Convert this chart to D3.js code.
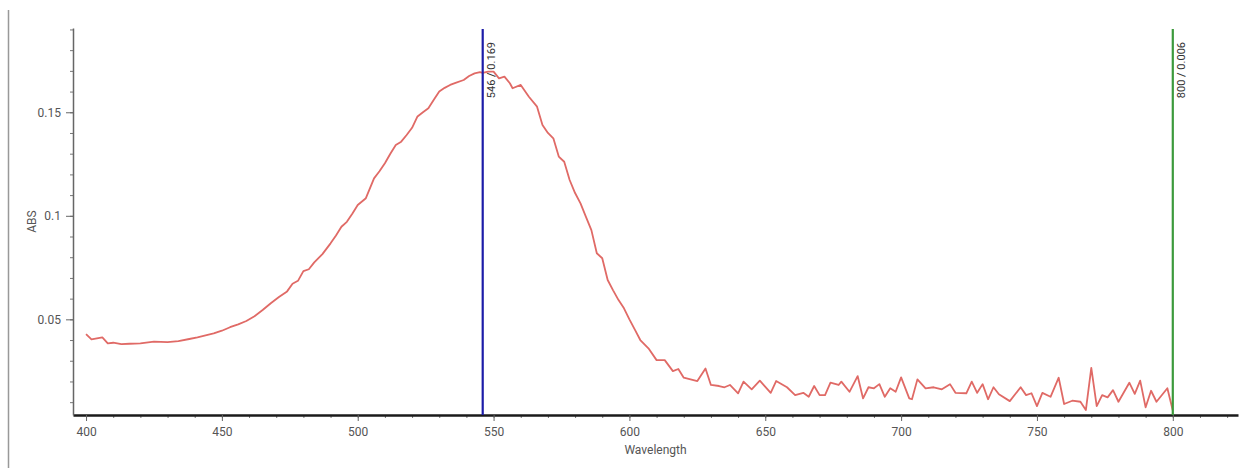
<!DOCTYPE html>
<html>
<head>
<meta charset="utf-8">
<script src="https://cdn.jsdelivr.net/npm/d3@7"></script>
<style>
  body { margin: 0; background: #fff; }
  text { font-family: Roboto, "Open Sans", sans-serif; }
</style>
</head>
<body>
<div class="canvas"></div>
<script>
const width = 1251
const height = 468

// spectrum
const wavelength = [
    400, 402, 404, 406, 408, 410, 413, 416, 420, 425, 430, 434, 438, 441, 444, 447, 450,
    453, 456, 459, 462, 465, 468, 471, 474, 476, 478, 480, 482, 484, 487, 490, 492, 494,
    496, 498, 500, 503, 506, 508, 510, 512, 514, 516, 518, 520, 522, 524, 526, 528, 530,
    532, 534, 536, 539, 541, 543, 545, 546, 548, 550, 552, 554, 556, 557, 560, 563, 566,
    568, 570, 572, 574, 576, 578, 580, 582, 584, 586, 588, 590, 592, 594, 596, 598, 600,
    602, 604, 607, 610, 613, 616, 618, 620, 625, 628, 630, 633, 635, 637, 640, 642, 645,
    648, 652, 654, 658, 661, 664, 666, 668, 670, 672, 674, 677, 678, 681, 684, 686, 688,
    690, 692, 694, 696, 698, 700, 703, 704, 706, 709, 712, 715, 718, 720, 724, 726, 728,
    730, 732, 734, 736, 740, 744, 746, 748, 750, 752, 755, 758, 760, 763, 766, 768, 770,
    772, 774, 776, 778, 780, 784, 786, 788, 790, 792, 794, 798, 800
]
const absorbance = [
    0.0429, 0.0403, 0.0408, 0.0413, 0.0384, 0.0387, 0.0380, 0.0382, 0.0384, 0.0392, 0.0390, 0.0395, 0.0405, 0.0413, 0.0423, 0.0432, 0.0445,
    0.0462, 0.0476, 0.0492, 0.0515, 0.0545, 0.0578, 0.0608, 0.0635, 0.0672, 0.0686, 0.0733, 0.0742, 0.0775, 0.0815, 0.0867, 0.0905, 0.0947,
    0.0971, 0.1010, 0.1052, 0.1085, 0.1181, 0.1215, 0.1254, 0.1300, 0.1342, 0.1358, 0.1390, 0.1425, 0.1480, 0.1500, 0.1519, 0.1560, 0.1600,
    0.1618, 0.1632, 0.1642, 0.1656, 0.1675, 0.1688, 0.1694, 0.1690, 0.1696, 0.1696, 0.1664, 0.1672, 0.1640, 0.1616, 0.1632, 0.1575, 0.1527,
    0.1439, 0.1400, 0.1374, 0.1286, 0.1261, 0.1173, 0.1110, 0.1060, 0.0995, 0.0931, 0.0819, 0.0795, 0.0690, 0.0640, 0.0593, 0.0553, 0.0500,
    0.0450, 0.0400, 0.0360, 0.0303, 0.0303, 0.0250, 0.0260, 0.0218, 0.0202, 0.0263, 0.0183, 0.0178, 0.0172, 0.0183, 0.0143, 0.0199, 0.0162,
    0.0204, 0.0145, 0.0202, 0.0172, 0.0134, 0.0145, 0.0126, 0.0178, 0.0134, 0.0134, 0.0194, 0.0183, 0.0199, 0.0150, 0.0226, 0.0118, 0.0172,
    0.0167, 0.0187, 0.0126, 0.0167, 0.0150, 0.0220, 0.0118, 0.0114, 0.0210, 0.0167, 0.0172, 0.0162, 0.0187, 0.0145, 0.0143, 0.0199, 0.0145,
    0.0187, 0.0114, 0.0172, 0.0138, 0.0105, 0.0172, 0.0134, 0.0143, 0.0081, 0.0145, 0.0126, 0.0218, 0.0091, 0.0107, 0.0102, 0.0062, 0.0266,
    0.0081, 0.0134, 0.0123, 0.0158, 0.0102, 0.0194, 0.0140, 0.0204, 0.0075, 0.0155, 0.0102, 0.0167, 0.0060
]

// cursor markers
const markerX = [546, 800]
const markerY = [0.169, 0.006]
const markerColor = ["#1c1ca8", "#3c9a3c"]

const xMajor = d3.range(400, 801, 50)
const xMinor = d3.range(400, 821, 10)
const yMajor = [0.05, 0.1, 0.15]
const yMinor = d3.range(1, 20).map(d => d / 100)

const svg = d3.select(".canvas")
    .append("svg")
    .attr("width", width)
    .attr("height", height)

// the panel border on the left of the screenshot
svg.append("line")
    .attr("x1", 8.5).attr("x2", 8.5)
    .attr("y1", 10).attr("y2", height)
    .attr("stroke", "#999")
    .attr("stroke-width", 1.5)

const x = d3.scaleLinear().domain([395.2, 824]).range([73, 1238])
const y = d3.scaleLinear().domain([0.0038, 0.1907]).range([415, 28])

const fmt = d => String(+d.toFixed(2))

// minor ticks first, major on top
svg.append("g")
    .attr("transform", `translate(0,${y.range()[0]})`)
    .call(d3.axisBottom(x).tickValues(xMinor).tickSize(3).tickFormat("").tickSizeOuter(0))
    .call(g => g.select(".domain").remove())
    .call(g => g.selectAll("line").attr("stroke", "#777"))

svg.append("g")
    .attr("transform", `translate(${x.range()[0]},0)`)
    .call(d3.axisLeft(y).tickValues(yMinor).tickSize(3).tickFormat("").tickSizeOuter(0))
    .call(g => g.select(".domain").remove())
    .call(g => g.selectAll("line").attr("stroke", "#777"))

const xAxis = svg.append("g")
    .attr("transform", `translate(0,${y.range()[0]})`)
    .call(d3.axisBottom(x).tickValues(xMajor).tickSize(6).tickPadding(6).tickSizeOuter(0))

xAxis.select(".domain").attr("stroke", "#1a1a1a").attr("stroke-width", 2.5)
xAxis.selectAll("line").attr("stroke", "#666")
xAxis.selectAll("text").attr("fill", "#555").style("font-size", "12px")

const yAxis = svg.append("g")
    .attr("transform", `translate(${x.range()[0]},0)`)
    .call(d3.axisLeft(y).tickValues(yMajor).tickFormat(fmt).tickSize(7).tickPadding(5).tickSizeOuter(0))

yAxis.select(".domain").attr("stroke", "#666").attr("stroke-width", 1.5)
yAxis.selectAll("line").attr("stroke", "#666")
yAxis.selectAll("text").attr("fill", "#555").style("font-size", "12px")

svg.append("text")
    .attr("x", (x.range()[0] + x.range()[1]) / 2)
    .attr("y", 454)
    .attr("text-anchor", "middle")
    .attr("fill", "#555")
    .style("font-size", "12px")
    .text("Wavelength")

svg.append("text")
    .attr("transform", `translate(36,${(y.range()[0] + y.range()[1]) / 2}) rotate(-90)`)
    .attr("text-anchor", "middle")
    .attr("fill", "#555")
    .style("font-size", "12px")
    .text("ABS")

const points = wavelength.map((w, i) => [w, absorbance[i]])

const line = d3.line()
    .x(d => x(d[0]))
    .y(d => y(d[1]))

svg.append("path")
    .datum(points)
    .attr("fill", "none")
    .attr("stroke", "#e06a66")
    .attr("stroke-width", 1.8)
    .attr("stroke-linejoin", "round")
    .attr("d", line)

const markers = svg.selectAll(".marker")
    .data(markerX)
    .enter()
    .append("g")
    .attr("class", "marker")

markers.append("line")
    .attr("x1", d => x(d))
    .attr("x2", d => x(d))
    .attr("y1", y.range()[1] + 1)
    .attr("y2", y.range()[0])
    .attr("stroke", (d, i) => markerColor[i])
    .attr("stroke-width", 2.2)

// labels read bottom to top, right of the cursor
markers.append("text")
    .attr("transform", d => `translate(${x(d) + 12},42) rotate(-90)`)
    .attr("text-anchor", "end")
    .attr("fill", "#333")
    .style("font-size", "11px")
    .text((d, i) => `${d} / ${markerY[i].toFixed(3)}`)
</script>
</body>
</html>
